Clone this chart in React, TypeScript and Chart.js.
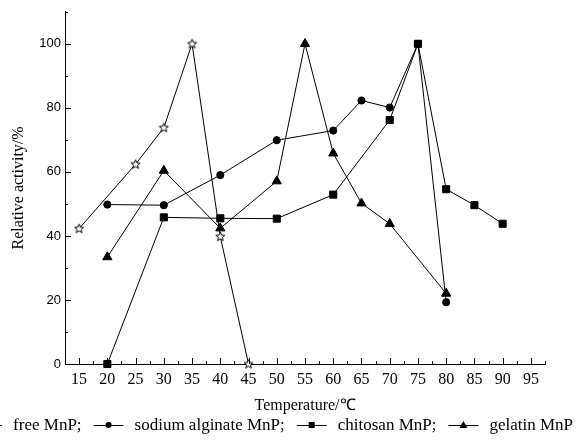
import React, { useEffect, useRef } from "react";
import { Chart, registerables } from "chart.js";
Chart.register(...registerables);

const freeTemps = [15, 25, 30, 35, 40, 45];
const freeValues = [42.3, 62.4, 73.8, 100, 39.8, 0];
const alginateTemps = [20, 30, 40, 50, 60, 65, 70, 75, 80];
const alginateValues = [49.8, 49.6, 59, 69.9, 72.9, 82.3, 80.1, 100, 19.3];
const chitosanTemps = [20, 30, 40, 50, 60, 70, 75, 80, 85, 90];
const chitosanValues = [0, 45.8, 45.5, 45.4, 52.9, 76.2, 100, 54.6, 49.6, 43.8];
const gelatinTemps = [20, 30, 40, 50, 55, 60, 65, 70, 80];
const gelatinValues = [33.4, 60.4, 42.4, 57.1, 100, 65.8, 50.2, 43.8, 22];

const seriesLabels = ["free MnP", "sodium alginate MnP", "chitosan MnP", "gelatin MnP"];
const xTickValues = [15, 20, 25, 30, 35, 40, 45, 50, 55, 60, 65, 70, 75, 80, 85, 90, 95];
const xMinorValues = [12.5, 17.5, 22.5, 27.5, 32.5, 37.5, 42.5, 47.5, 52.5, 57.5, 62.5, 67.5, 72.5, 77.5, 82.5, 87.5, 92.5, 97.5];
const yTickValues = [0, 20, 40, 60, 80, 100];
const yMinorValues = [10, 30, 50, 70, 90, 110];

function makeStar(): HTMLCanvasElement {
  const c = document.createElement("canvas");
  c.width = 11;
  c.height = 11;
  const ctx = c.getContext("2d")!;
  const cx = 5.5, cy = 5.7, ro = 4.8, ri = 2.1;
  ctx.beginPath();
  for (let i = 0; i < 10; i++) {
    const r = i % 2 === 0 ? ro : ri;
    const a = -Math.PI / 2 + (i * Math.PI) / 5;
    const px = cx + r * Math.cos(a);
    const py = cy + r * Math.sin(a);
    if (i === 0) ctx.moveTo(px, py);
    else ctx.lineTo(px, py);
  }
  ctx.closePath();
  ctx.fillStyle = "#fff";
  ctx.fill();
  ctx.strokeStyle = "#000";
  ctx.lineWidth = 1;
  ctx.stroke();
  return c;
}

const zip = (xs: number[], ys: number[]) => xs.map((x, i) => ({ x, y: ys[i] }));

export default function App() {
  const ref = useRef<HTMLCanvasElement | null>(null);
  useEffect(() => {
    if (!ref.current) return;
    const star = makeStar();
    const common = {
      borderColor: "#000",
      backgroundColor: "#000",
      pointBorderColor: "#000",
      pointBackgroundColor: "#000",
      borderWidth: 1,
      pointBorderWidth: 1,
      tension: 0,
      clip: false as any,
    };
    const datasets: any[] = [
      { ...common, label: seriesLabels[0], data: zip(freeTemps, freeValues), pointStyle: star, pointRadius: 5 },
      { ...common, label: seriesLabels[1], data: zip(alginateTemps, alginateValues), pointStyle: "circle", pointRadius: 3.6 },
      { ...common, label: seriesLabels[2], data: zip(chitosanTemps, chitosanValues), pointStyle: "rect", pointRadius: 5 },
      { ...common, label: seriesLabels[3], data: zip(gelatinTemps, gelatinValues), pointStyle: "triangle", pointRadius: 5.3 },
    ];

    const tickPlugin = {
      id: "inwardTicks",
      afterDraw(chart: any) {
        const ctx = chart.ctx;
        const xs = chart.scales.x;
        const ys = chart.scales.y;
        const area = chart.chartArea;
        ctx.save();
        ctx.strokeStyle = "#000";
        ctx.lineWidth = 1;
        ctx.beginPath();
        xTickValues.forEach((v) => {
          const p = Math.round(xs.getPixelForValue(v)) + 0.5;
          ctx.moveTo(p, area.bottom);
          ctx.lineTo(p, area.bottom - 6);
        });
        xMinorValues.forEach((v) => {
          const p = Math.round(xs.getPixelForValue(v)) + 0.5;
          ctx.moveTo(p, area.bottom);
          ctx.lineTo(p, area.bottom - 3);
        });
        yTickValues.forEach((v) => {
          const p = Math.round(ys.getPixelForValue(v)) + 0.5;
          ctx.moveTo(area.left, p);
          ctx.lineTo(area.left + 6, p);
        });
        yMinorValues.forEach((v) => {
          const p = Math.round(ys.getPixelForValue(v)) + 0.5;
          ctx.moveTo(area.left, p);
          ctx.lineTo(area.left + 3, p);
        });
        ctx.stroke();

        // legend
        ctx.font = "17px 'Liberation Serif', 'Times New Roman', serif";
        ctx.textBaseline = "middle";
        ctx.textAlign = "left";
        const symW = 36;
        const gap = 8;
        const texts = seriesLabels.map((l, i) => (i < seriesLabels.length - 1 ? l + ";" : l));
        const sepW = 9;
        let total = 0;
        texts.forEach((t, i) => {
          total += symW + gap + ctx.measureText(t).width;
          if (i < texts.length - 1) total += sepW;
        });
        let x = 573 - total;
        const y = 425;
        texts.forEach((t, i) => {
          ctx.beginPath();
          ctx.moveTo(x + 3, y + 0.5);
          ctx.lineTo(x + symW - 3, y + 0.5);
          ctx.stroke();
          const cx = x + symW / 2;
          ctx.fillStyle = "#000";
          if (i === 0) {
            ctx.drawImage(star, cx - 5.5, y - 5.5);
          } else if (i === 1) {
            ctx.beginPath();
            ctx.arc(cx, y, 3, 0, Math.PI * 2);
            ctx.fill();
          } else if (i === 2) {
            ctx.fillRect(cx - 3, y - 3, 6, 6);
          } else {
            ctx.beginPath();
            ctx.moveTo(cx, y - 4);
            ctx.lineTo(cx + 4, y + 3);
            ctx.lineTo(cx - 4, y + 3);
            ctx.closePath();
            ctx.fill();
          }
          x += symW + gap;
          ctx.fillStyle = "#000";
          ctx.fillText(t, x, y + 1);
          x += ctx.measureText(t).width + sepW;
        });
        ctx.restore();
      },
    };

    const chart = new Chart(ref.current, {
      type: "line",
      data: { datasets },
      options: {
        animation: false,
        responsive: true,
        maintainAspectRatio: false,
        layout: { padding: { left: 0, right: 37, top: 7, bottom: 0 } },
        plugins: { legend: { display: false }, tooltip: { enabled: false } },
        scales: {
          x: {
            type: "linear",
            min: 12.5,
            max: 97.5,
            grid: { display: false, drawTicks: false },
            border: { display: true, color: "#000", width: 1 },
            afterBuildTicks: (s: any) => {
              s.ticks = xTickValues.map((v) => ({ value: v }));
            },
            afterFit: (s: any) => {
              s.height = 77;
            },
            ticks: {
              color: "#000",
              padding: 6,
              autoSkip: false,
              maxRotation: 0,
              font: { family: "'Liberation Serif', serif", size: 16 },
            },
            title: {
              display: true,
              text: "Temperature/℃",
              color: "#000",
              font: { family: "'Liberation Serif', serif", size: 16 },
              padding: { top: 0, bottom: 26 },
            },
          },
          y: {
            type: "linear",
            min: 0,
            max: 110,
            grid: { display: false, drawTicks: false },
            border: { display: true, color: "#000", width: 1 },
            afterBuildTicks: (s: any) => {
              s.ticks = yTickValues.map((v) => ({ value: v }));
            },
            afterFit: (s: any) => {
              s.width = 65;
            },
            ticks: {
              color: "#000",
              padding: 4,
              font: { family: "'Liberation Sans', Arial, sans-serif", size: 13 },
            },
            title: {
              display: true,
              text: "Relative activity/%",
              color: "#000",
              font: { family: "'Liberation Serif', serif", size: 16 },
              padding: { top: 9, bottom: 0 },
            },
          },
        },
      },
      plugins: [tickPlugin],
    });
    return () => chart.destroy();
  }, []);

  return (
    <div style={{ position: "fixed", left: 0, top: 0, width: 582, height: 441, background: "#fff" }}>
      <canvas ref={ref} />
    </div>
  );
}
